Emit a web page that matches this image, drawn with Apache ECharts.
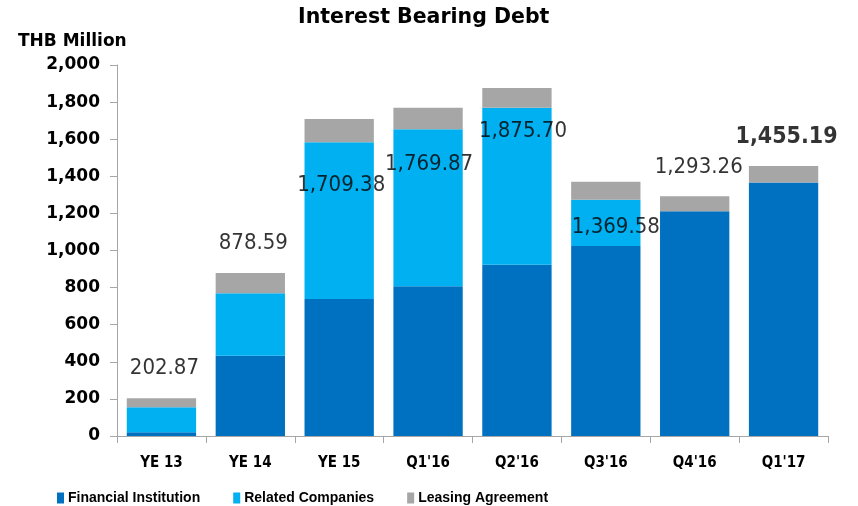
<!doctype html>
<html>
<head>
    <meta charset="UTF-8">
    <title>Interest Bearing Debt</title>
    <script src="https://cdn.jsdelivr.net/npm/echarts@6/dist/echarts.min.js"></script>
    <style>
        html, body { margin: 0; padding: 0; background: #fff; }
        #main { width: 858px; height: 506px; }
    </style>
</head>
<body>
<div id="main"></div>
<script>
    var categories = ['YE 13', 'YE 14', 'YE 15', "Q1'16", "Q2'16", "Q3'16", "Q4'16", "Q1'17"];
    var financialInstitution = [20, 433, 738, 807, 923, 1024, 1211, 1366];
    var relatedCompanies = [135, 336, 845, 846, 847, 250, 0, 0];
    var leasingAgreement = [48, 110, 126, 117, 106, 96, 82, 89];
    var totals = [202.87, 878.59, 1709.38, 1769.87, 1875.70, 1369.58, 1293.26, 1455.19];
    var yTicks = [0, 200, 400, 600, 800, 1000, 1200, 1400, 1600, 1800, 2000];

    // where each total label sits relative to the top of its bar (px)
    var labelOffsets = [[3, -30], [3, -30], [2, 66], [1, 57], [6, 43], [10, 45], [4, -29], [3, -29]];

    var condensed = "'DejaVu Sans Condensed', 'DejaVu Sans', sans-serif";
    var arial = "'Liberation Sans', Arial, sans-serif";
    var fmt = function (v, d) {
        return v.toLocaleString('en-US', {minimumFractionDigits: d, maximumFractionDigits: d});
    };

    var myChart = echarts.init(document.getElementById('main'));

    var totalData = totals.map(function (v, i) {
        var last = i === totals.length - 1;
        return {
            value: v,
            label: {
                offset: labelOffsets[i],
                fontWeight: last ? 'bold' : 'normal',
                fontSize: last ? 23 : 22
            }
        };
    });

    var option = {
        animation: false,
        color: ['#0070C0', '#00B0F0', '#A6A6A6'],
        title: [{
            text: 'Interest Bearing Debt',
            left: 298,
            top: 7,
            padding: 0,
            textStyle: {fontFamily: "'DejaVu Sans', sans-serif", fontWeight: 'bold', fontSize: 20.5, color: '#000'}
        }, {
            text: 'THB Million',
            left: 18,
            top: 33,
            padding: 0,
            textStyle: {fontFamily: "'DejaVu Sans', sans-serif", fontWeight: 'bold', fontSize: 17, color: '#000'}
        }],
        legend: {
            data: ['Financial Institution', 'Related Companies', 'Leasing Agreement'],
            left: 52,
            top: 486,
            itemWidth: 7,
            itemHeight: 11,
            itemGap: 33,
            icon: 'rect',
            textStyle: {fontFamily: arial, fontWeight: 'bold', fontSize: 14, color: '#000', padding: [0, 0, 0, -1]}
        },
        grid: {left: 117, right: 30, top: 65, bottom: 70},
        xAxis: {
            type: 'category',
            data: categories,
            axisLine: {lineStyle: {color: '#a6a6a6'}},
            axisTick: {show: true, length: 7, lineStyle: {color: '#a6a6a6'}},
            axisLabel: {
                margin: 20,
                fontFamily: condensed,
                fontWeight: 'bold',
                fontSize: 15,
                color: '#000'
            }
        },
        yAxis: {
            type: 'value',
            min: yTicks[0],
            max: yTicks[yTicks.length - 1],
            interval: yTicks[1] - yTicks[0],
            splitLine: {show: false},
            axisLine: {show: true, lineStyle: {color: '#a6a6a6'}},
            axisTick: {show: true, length: 7, lineStyle: {color: '#a6a6a6'}},
            axisLabel: {
                margin: 17,
                fontFamily: "'DejaVu Sans', sans-serif",
                fontWeight: 'bold',
                fontSize: 17,
                color: '#000',
                formatter: function (v) { return fmt(v, 0); }
            }
        },
        series: [
            {
                name: 'Financial Institution',
                type: 'bar',
                stack: 'debt',
                barCategoryGap: '22%',
                data: financialInstitution
            },
            {
                name: 'Related Companies',
                type: 'bar',
                stack: 'debt',
                data: relatedCompanies
            },
            {
                name: 'Leasing Agreement',
                type: 'bar',
                stack: 'debt',
                data: leasingAgreement
            },
            {
                name: 'Total',
                type: 'scatter',
                symbolSize: 0,
                silent: true,
                data: totalData,
                label: {
                    show: true,
                    position: 'inside',
                    fontFamily: condensed,
                    color: '#000',
                    formatter: function (p) { return fmt(p.value, 2); }
                },
                z: 10
            }
        ]
    };

    myChart.setOption(option);
</script>
</body>
</html>
